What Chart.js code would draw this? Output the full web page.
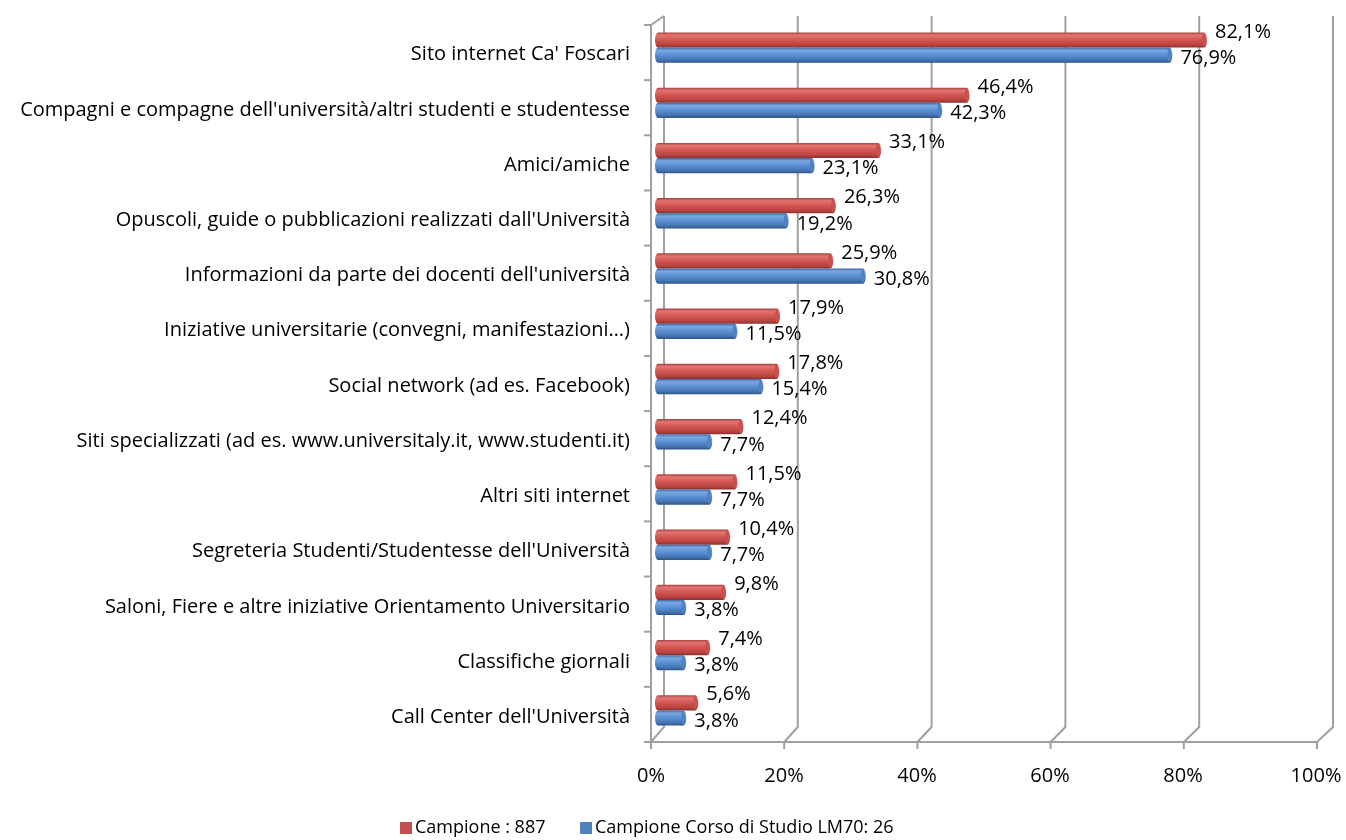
<!DOCTYPE html>
<html>
<head>
<meta charset="utf-8">
<script src="https://cdn.jsdelivr.net/npm/chart.js@4/dist/chart.umd.min.js"></script>
<style>
  html, body { margin: 0; padding: 0; background: #fff; }
  #wrap { width: 1346px; height: 840px; }
</style>
</head>
<body>
<div id="wrap"><canvas id="chart" width="1346" height="840"></canvas></div>
<script>
// ====== DATA ======
const categories = [
    "Sito internet Ca' Foscari",
    "Compagni e compagne dell'università/altri studenti e studentesse",
    "Amici/amiche",
    "Opuscoli, guide o pubblicazioni realizzati dall'Università",
    "Informazioni da parte dei docenti dell'università",
    "Iniziative universitarie (convegni, manifestazioni…)",
    "Social network (ad es. Facebook)",
    "Siti specializzati (ad es. www.universitaly.it, www.studenti.it)",
    "Altri siti internet",
    "Segreteria Studenti/Studentesse dell'Università",
    "Saloni, Fiere e altre iniziative Orientamento Universitario",
    "Classifiche giornali",
    "Call Center dell'Università"
];
const seriesNames = ["Campione : 887", "Campione Corso di Studio LM70: 26"];
const campioneValues = [82.1, 46.4, 33.1, 26.3, 25.9, 17.9, 17.8, 12.4, 11.5, 10.4, 9.8, 7.4, 5.6];
const lm70Values = [76.9, 42.3, 23.1, 19.2, 30.8, 11.5, 15.4, 7.7, 7.7, 7.7, 3.8, 3.8, 3.8];
const xTicks = [0, 20, 40, 60, 80, 100];

const FONT = "'Open Sans', sans-serif";
const FONT_SIZE = 20;
const GRID = "#a0a0a0";

const gradStops = [
    ["#a8403d", "#e27572", "#d35552", "#b9433f", "#873030"],
    ["#3a68a6", "#79a8e2", "#5990d4", "#4473b1", "#2e5283"]
];
const capColors = ["#c9504c", "#4f82c2"];

function fmt(v) {
    return v.toFixed(1).replace(".", ",") + "%";
}

// ====== 3D GRID / WALLS ======
const wallPlugin = {
    id: "walls",
    beforeDatasetsDraw(chart) {
        const { ctx, chartArea, scales } = chart;
        const xs = scales.x;
        const frontX = v => xs.getPixelForValue(v) - 7 + v * 0.01;
        const backX = v => xs.getPixelForValue(v) + 6 + v * 0.04;
        const backTop = chartArea.top - 4;
        const backBottom = chartArea.bottom - 11;
        const frontTop = chartArea.top + 5;
        const frontBottom = chartArea.bottom + 4;

        ctx.save();
        ctx.strokeStyle = GRID;
        ctx.lineWidth = 2;

        // back wall verticals + floor diagonals
        xTicks.forEach(v => {
            ctx.beginPath();
            ctx.moveTo(backX(v), backTop);
            ctx.lineTo(backX(v), backBottom);
            ctx.lineTo(frontX(v), frontBottom);
            ctx.stroke();
            // tick mark on front axis
            ctx.beginPath();
            ctx.moveTo(frontX(v), frontBottom);
            ctx.lineTo(frontX(v), frontBottom + 7);
            ctx.stroke();
        });

        // front horizontal axis
        ctx.beginPath();
        ctx.moveTo(frontX(0), frontBottom);
        ctx.lineTo(frontX(100), frontBottom);
        ctx.stroke();

        // front vertical axis + top diagonal
        ctx.beginPath();
        ctx.moveTo(backX(0), backTop);
        ctx.lineTo(frontX(0), frontTop);
        ctx.lineTo(frontX(0), frontBottom);
        ctx.stroke();

        // category tick marks
        const n = categories.length;
        for (let i = 0; i <= n; i++) {
            const y = frontTop + i * (frontBottom - frontTop) / n;
            ctx.beginPath();
            ctx.moveTo(frontX(0) - 7, y);
            ctx.lineTo(frontX(0), y);
            ctx.stroke();
        }
        ctx.restore();
    }
};

// ====== CYLINDER BARS + LABELS ======
const cylinderPlugin = {
    id: "cylinders",
    afterDatasetsDraw(chart) {
        const { ctx } = chart;
        ctx.save();
        chart.data.datasets.forEach((ds, di) => {
            const meta = chart.getDatasetMeta(di);
            meta.data.forEach((bar, i) => {
                const x0 = bar.base;
                const x1 = bar.x;
                const h = bar.height;
                const top = bar.y - h / 2;
                const bot = bar.y + h / 2;
                const rx = 3;
                const g = ctx.createLinearGradient(0, top, 0, bot);
                const st = gradStops[di];
                g.addColorStop(0, st[0]);
                g.addColorStop(0.18, st[1]);
                g.addColorStop(0.5, st[2]);
                g.addColorStop(0.82, st[3]);
                g.addColorStop(1, st[4]);

                ctx.fillStyle = g;
                ctx.beginPath();
                ctx.moveTo(x0, top);
                ctx.lineTo(x1, top);
                ctx.ellipse(x1, bar.y, rx, h / 2, 0, -Math.PI / 2, Math.PI / 2);
                ctx.lineTo(x0, bot);
                ctx.ellipse(x0, bar.y, rx, h / 2, 0, Math.PI / 2, Math.PI * 1.5);
                ctx.closePath();
                ctx.fill();

                // end cap
                ctx.fillStyle = capColors[di];
                ctx.beginPath();
                ctx.ellipse(x1, bar.y, rx - 1, h / 2 - 1, 0, 0, Math.PI * 2);
                ctx.fill();

                // value label
                ctx.fillStyle = "#000";
                ctx.font = FONT_SIZE + "px " + FONT;
                ctx.textAlign = "left";
                ctx.textBaseline = "middle";
                const dy = di === 0 ? -8 : 3;
                ctx.fillText(fmt(ds.data[i]), x1 + rx + 8, bar.y + dy);
            });
        });

        // ====== LEGEND ======
        ctx.font = "18px " + FONT;
        ctx.textBaseline = "middle";
        const ly = 828;
        const items = [[400, "#c0504d"], [580, "#4f81bd"]];
        items.forEach((it, k) => {
            ctx.fillStyle = it[1];
            ctx.fillRect(it[0], ly - 6, 12, 12);
            ctx.fillStyle = "#000";
            ctx.fillText(seriesNames[k], it[0] + 15, ly);
        });
        ctx.restore();
    }
};

new Chart(document.getElementById("chart"), {
    type: "bar",
    data: {
        labels: categories,
        datasets: [
            { label: seriesNames[0], data: campioneValues, backgroundColor: "rgba(0,0,0,0)" },
            { label: seriesNames[1], data: lm70Values, backgroundColor: "rgba(0,0,0,0)" }
        ]
    },
    options: {
        indexAxis: "y",
        responsive: false,
        animation: false,
        layout: { padding: { top: 20, right: 23, bottom: 0, left: 0 } },
        categoryPercentage: 0.55,
        barPercentage: 1,
        plugins: {
            legend: { display: false },
            tooltip: { enabled: false }
        },
        scales: {
            x: {
                min: 0,
                max: 100,
                border: { display: false },
                grid: { display: false, drawTicks: false },
                afterFit: s => {
                    s.height = 102;
                    s.paddingLeft = 0;
                    s.paddingRight = 0;
                },
                afterBuildTicks: s => { s.ticks = xTicks.map(v => ({ value: v })); },
                ticks: {
                    padding: 26,
                    labelOffset: -7,
                    color: "#000",
                    maxRotation: 0,
                    font: { family: FONT, size: FONT_SIZE },
                    callback: v => v + "%"
                }
            },
            y: {
                border: { display: false },
                grid: { display: false, drawTicks: false },
                afterFit: s => {
                    s.width = 658;
                    s.paddingTop = 0;
                    s.paddingBottom = 0;
                },
                ticks: {
                    padding: 28,
                    labelOffset: 7,
                    color: "#000",
                    autoSkip: false,
                    font: { family: FONT, size: FONT_SIZE }
                }
            }
        }
    },
    plugins: [wallPlugin, cylinderPlugin]
});
</script>
</body>
</html>
